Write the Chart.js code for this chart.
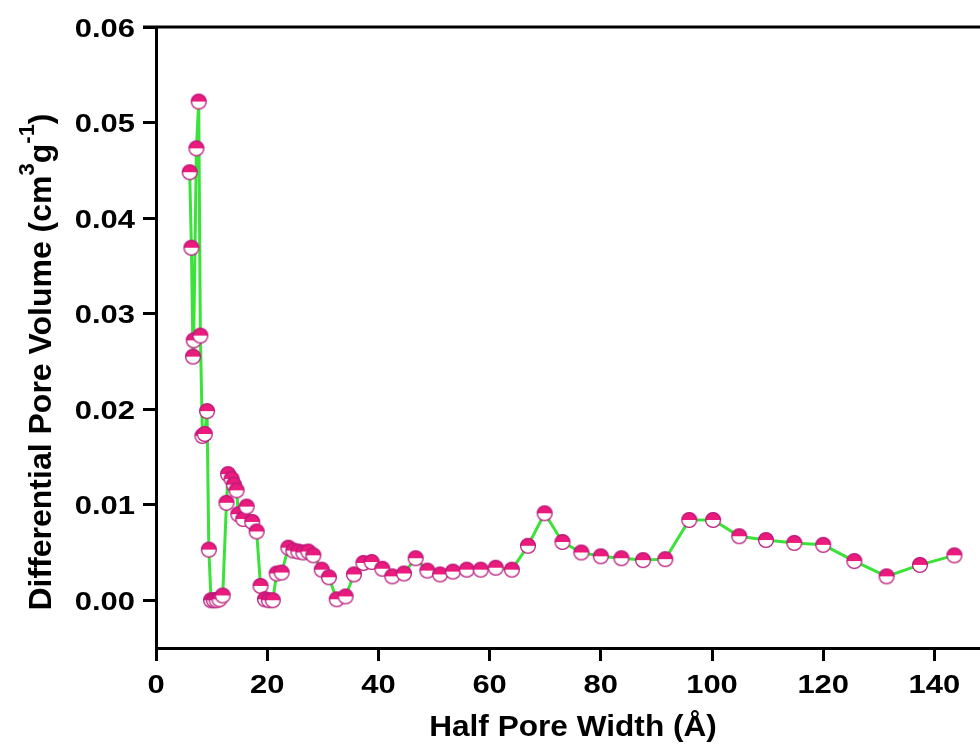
<!DOCTYPE html>
<html>
<head>
<meta charset="utf-8">
<script src="https://cdn.jsdelivr.net/npm/chart.js@4"></script>
<style>
  html, body { margin: 0; padding: 0; background: #fff; }
  #poreChart { display: block; }
</style>
</head>
<body>
<canvas id="poreChart" width="980" height="746"></canvas>
<script>
// Half pore width (Å)
const poreWidth = [
  6.06, 6.37, 6.66, 6.78, 7.27, 7.68, 7.98, 8.35, 8.77, 9.18,
  9.5, 9.9, 10.4, 10.9, 11.4, 12.0, 12.67, 12.96, 13.6, 14.0,
  14.5, 14.8, 15.7, 16.3, 17.3, 18.1, 18.8, 19.6, 20.3, 21.0,
  21.7, 22.6, 23.8, 24.7, 25.6, 26.5, 27.4, 28.3, 29.8, 31.1,
  32.5, 34.1, 35.6, 37.3, 38.8, 40.7, 42.5, 44.6, 46.7, 48.8,
  51.1, 53.4, 55.9, 58.4, 61.1, 64.0, 66.9, 69.9, 73.1, 76.5,
  80.0, 83.7, 87.6, 91.6, 95.9, 100.2, 104.9, 109.7, 114.8, 120.0,
  125.6, 131.4, 137.4, 143.6
];

// Differential pore volume (cm3/g)
const poreVolume = [
  0.0448, 0.0369, 0.0255, 0.0272, 0.0473, 0.0522, 0.0277, 0.0172, 0.0174, 0.0198,
  0.0053, 0.0000, 0.0000, 0.0000, 0.0001, 0.0005, 0.0102, 0.0132, 0.0127, 0.0121,
  0.0115, 0.0090, 0.0085, 0.0098, 0.0082, 0.0072, 0.0015, 0.0001, 0.0000, 0.0000,
  0.0028, 0.0029, 0.0055, 0.0052, 0.0051, 0.0050, 0.0051, 0.0047, 0.0032, 0.0024,
  0.0001, 0.0004, 0.0027, 0.0039, 0.0040, 0.0033, 0.0025, 0.0028, 0.0044, 0.0031,
  0.0027, 0.0030, 0.0032, 0.0032, 0.0034, 0.0032, 0.0057, 0.0091, 0.0061, 0.0050,
  0.0046, 0.0044, 0.0042, 0.0043, 0.0084, 0.0084, 0.0067, 0.0063, 0.0060, 0.0058,
  0.0041, 0.0025, 0.0037, 0.0047
];

const xTitle = "Half Pore Width (Å)";
const yTitleParts = [
  { text: "Differential Pore Volume (cm", sup: false },
  { text: "3", sup: true },
  { text: "g", sup: false },
  { text: "-1", sup: true },
  { text: ")", sup: false },
];

const FONT = '"Liberation Sans", Arial, sans-serif';
const PINK = "#eb1a7d";
const PINK_EDGE = "#b8177a";
const GREEN = "#3ae23a";
const TICK_FONT = "bold 26px " + FONT;
const TICK_STRETCH = 1.19;

// half-filled circle marker: pink on top, white below
function makeMarker(r) {
  const size = Math.ceil(r * 2 + 3);
  const c = document.createElement("canvas");
  c.width = size;
  c.height = size;
  const g = c.getContext("2d");
  const m = size / 2;
  g.beginPath();
  g.arc(m, m, r, 0, Math.PI * 2);
  g.fillStyle = "#fff";
  g.fill();
  g.beginPath();
  g.arc(m, m, r, Math.PI, 0);
  g.closePath();
  g.fillStyle = PINK;
  g.fill();
  g.beginPath();
  g.arc(m, m, r, 0, Math.PI * 2);
  g.lineWidth = 1.3;
  g.strokeStyle = PINK_EDGE;
  g.stroke();
  return c;
}

const marker = makeMarker(7.4);

// text drawn with a slight horizontal stretch (wide bold Arial look)
function wideText(ctx, text, x, y, align, sx) {
  ctx.save();
  ctx.translate(x, y);
  ctx.scale(sx, 1);
  ctx.textAlign = align;
  ctx.fillText(text, 0, 0);
  ctx.restore();
}

// top frame line, tick labels, axis titles
const framePlugin = {
  id: "framePlugin",
  afterDraw(chart) {
    const { ctx, chartArea, scales } = chart;
    ctx.save();
    ctx.strokeStyle = "#000";
    ctx.lineWidth = 3;
    ctx.beginPath();
    ctx.moveTo(chartArea.left - 13, chartArea.top);
    ctx.lineTo(chartArea.right, chartArea.top);
    ctx.stroke();
    ctx.restore();

    ctx.save();
    ctx.fillStyle = "#000";
    ctx.textBaseline = "alphabetic";
    ctx.font = TICK_FONT;
    for (const t of scales.y.ticks) {
      const py = scales.y.getPixelForValue(t.value);
      wideText(ctx, t.value.toFixed(2), chartArea.left - 21, py + 9.5, "right", TICK_STRETCH);
    }
    for (const t of scales.x.ticks) {
      const px = scales.x.getPixelForValue(t.value);
      wideText(ctx, String(t.value), px, chartArea.bottom + 45, "center", TICK_STRETCH);
    }

    ctx.font = "bold 29px " + FONT;
    wideText(ctx, xTitle, (chartArea.left + chartArea.right) / 2 + 5, 736, "center", 1.09);

    const big = "bold 32px " + FONT;
    const small = "bold 22px " + FONT;
    let total = 0;
    for (const p of yTitleParts) {
      ctx.font = p.sup ? small : big;
      total += ctx.measureText(p.text).width;
    }
    ctx.translate(51, 362);
    ctx.rotate(-Math.PI / 2);
    let x = -total / 2;
    ctx.textAlign = "left";
    for (const p of yTitleParts) {
      ctx.font = p.sup ? small : big;
      ctx.fillText(p.text, x, p.sup ? -17 : 0);
      x += ctx.measureText(p.text).width;
    }
    ctx.restore();
  },
};

const points = poreWidth.map((x, i) => ({ x, y: poreVolume[i] }));

new Chart(document.getElementById("poreChart"), {
  type: "line",
  data: {
    datasets: [{
      data: points,
      borderColor: GREEN,
      borderWidth: 3,
      pointStyle: marker,
      pointRadius: 8,
      pointHoverRadius: 8,
      tension: 0,
    }],
  },
  options: {
    responsive: false,
    animation: false,
    devicePixelRatio: 1,
    layout: { autoPadding: false, padding: { top: 27, right: 0, left: 0, bottom: 0 } },
    plugins: {
      legend: { display: false },
      tooltip: { enabled: false },
    },
    scales: {
      x: {
        type: "linear",
        min: 0,
        max: 148.2,
        afterFit: s => { s.height = 98; s.paddingLeft = 0; s.paddingRight = 0; },
        ticks: { stepSize: 20, includeBounds: false, display: false },
        grid: {
          drawOnChartArea: false,
          drawTicks: true,
          tickLength: 13,
          tickWidth: 3,
          color: "#000",
        },
        border: { display: true, color: "#000", width: 3 },
      },
      y: {
        min: -0.005,
        max: 0.06,
        afterFit: s => { s.width = 156; },
        ticks: { stepSize: 0.01, includeBounds: false, display: false },
        grid: {
          drawOnChartArea: false,
          drawTicks: true,
          tickLength: 13,
          tickWidth: 3,
          color: "#000",
        },
        border: { display: true, color: "#000", width: 3 },
      },
    },
  },
  plugins: [framePlugin],
});
</script>
</body>
</html>
